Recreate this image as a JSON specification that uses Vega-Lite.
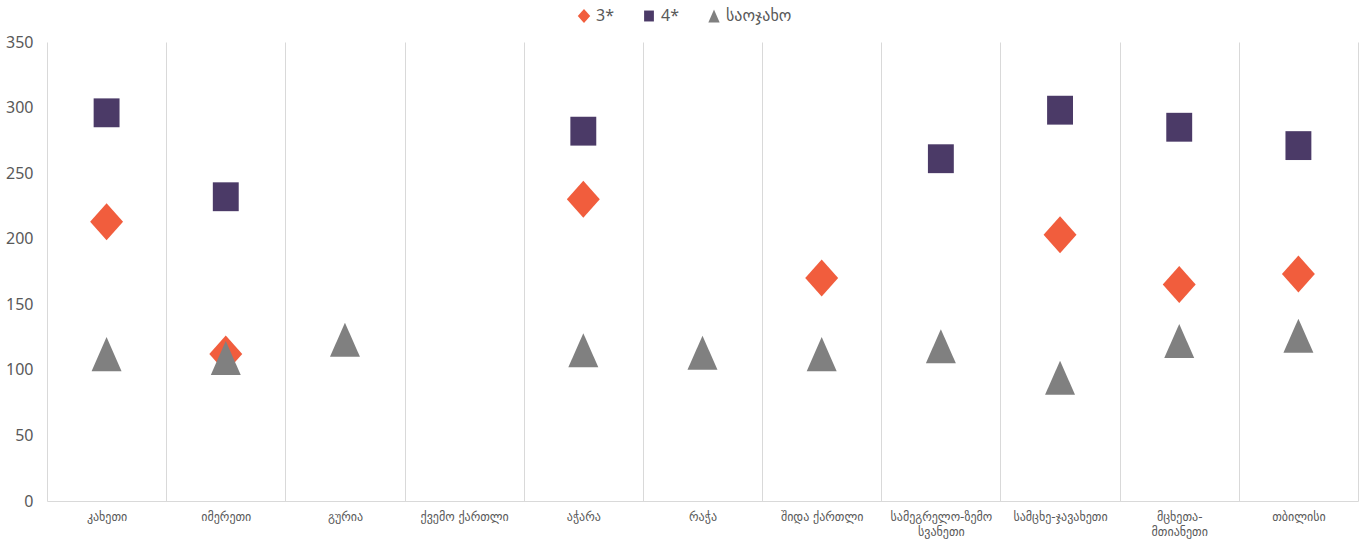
{
  "$schema": "https://vega.github.io/schema/vega-lite/v6.json",
  "width": 1311,
  "height": 459,
  "autosize": {"type": "none"},
  "padding": {"left": 47, "top": 42, "right": 8, "bottom": 39},
  "background": "#ffffff",
  "config": {"view": {"stroke": null}},
  "data": {
    "values": [
      {"region": "კახეთი", "series": "3*", "value": 213},
      {"region": "კახეთი", "series": "4*", "value": 296},
      {"region": "კახეთი", "series": "საოჯახო", "value": 112},
      {"region": "იმერეთი", "series": "3*", "value": 112},
      {"region": "იმერეთი", "series": "4*", "value": 232},
      {"region": "იმერეთი", "series": "საოჯახო", "value": 109},
      {"region": "გურია", "series": "საოჯახო", "value": 123},
      {"region": "აჭარა", "series": "3*", "value": 230},
      {"region": "აჭარა", "series": "4*", "value": 282},
      {"region": "აჭარა", "series": "საოჯახო", "value": 115},
      {"region": "რაჭა", "series": "საოჯახო", "value": 113},
      {"region": "შიდა ქართლი", "series": "3*", "value": 170},
      {"region": "შიდა ქართლი", "series": "საოჯახო", "value": 112},
      {"region": "სამეგრელო-ზემო სვანეთი", "series": "4*", "value": 261},
      {"region": "სამეგრელო-ზემო სვანეთი", "series": "საოჯახო", "value": 118},
      {"region": "სამცხე-ჯავახეთი", "series": "3*", "value": 203},
      {"region": "სამცხე-ჯავახეთი", "series": "4*", "value": 298},
      {"region": "სამცხე-ჯავახეთი", "series": "საოჯახო", "value": 94},
      {"region": "მცხეთა-მთიანეთი", "series": "3*", "value": 165},
      {"region": "მცხეთა-მთიანეთი", "series": "4*", "value": 285},
      {"region": "მცხეთა-მთიანეთი", "series": "საოჯახო", "value": 122},
      {"region": "თბილისი", "series": "3*", "value": 173},
      {"region": "თბილისი", "series": "4*", "value": 271},
      {"region": "თბილისი", "series": "საოჯახო", "value": 126}
    ]
  },
  "mark": {"type": "point", "filled": true, "opacity": 1, "size": 1369, "strokeWidth": 0},
  "encoding": {
    "x": {
      "field": "region",
      "type": "nominal",
      "scale": {
        "domain": ["კახეთი", "იმერეთი", "გურია", "ქვემო ქართლი", "აჭარა", "რაჭა", "შიდა ქართლი", "სამეგრელო-ზემო სვანეთი", "სამცხე-ჯავახეთი", "მცხეთა-მთიანეთი", "თბილისი"],
        "paddingInner": 0,
        "paddingOuter": 0
      },
      "axis": {
        "title": null,
        "labelAngle": 0,
        "grid": true,
        "gridColor": "#d9d9d9",
        "gridWidth": 1,
        "tickBand": "extent",
        "ticks": false,
        "domain": true,
        "domainColor": "#d9d9d9",
        "labelPadding": 10,
        "labelFontSize": 12,
        "labelFont": "DejaVu Sans",
        "labelColor": "#595959",
        "labelLimit": 0,
        "labelLineHeight": 15,
        "labelExpr": "datum.value == 'სამეგრელო-ზემო სვანეთი' ? ['სამეგრელო-ზემო', 'სვანეთი'] : datum.value == 'მცხეთა-მთიანეთი' ? ['მცხეთა-', 'მთიანეთი'] : datum.value"
      }
    },
    "y": {
      "field": "value",
      "type": "quantitative",
      "scale": {"domain": [0, 350], "nice": false},
      "axis": {
        "title": null,
        "values": [0, 50, 100, 150, 200, 250, 300, 350],
        "grid": false,
        "domain": false,
        "ticks": false,
        "labelPadding": 14,
        "labelFontSize": 16,
        "labelFont": "Noto Sans",
        "labelColor": "#595959"
      }
    },
    "color": {
      "field": "series",
      "type": "nominal",
      "scale": {"domain": ["3*", "4*", "საოჯახო"], "range": ["#F15D3D", "#4B3A67", "#808080"]},
      "legend": {
        "title": null,
        "orient": "none",
        "direction": "horizontal",
        "legendX": 529,
        "legendY": -34,
        "symbolSize": 196,
        "labelFontSize": 16,
        "labelFont": "Noto Sans, DejaVu Sans",
        "labelColor": "#595959",
        "labelOffset": 4,
        "columnPadding": 27
      }
    },
    "shape": {
      "field": "series",
      "type": "nominal",
      "scale": {
        "domain": ["3*", "4*", "საოჯახო"],
        "range": [
          "M0,-1L0.89,0L0,1L-0.89,0Z",
          "M-0.7,-0.78L0.7,-0.78L0.7,0.78L-0.7,0.78Z",
          "M0,-0.92L0.81,0.92L-0.81,0.92Z"
        ]
      }
    }
  }
}
